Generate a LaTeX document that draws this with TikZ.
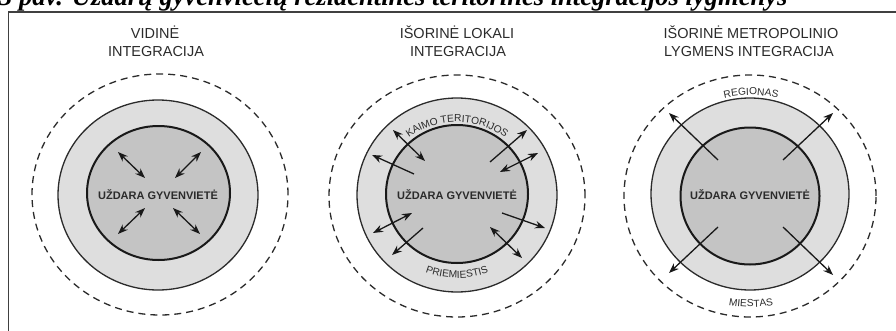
\documentclass[tikz,border=0pt]{standalone}
\usepackage{graphicx}
\usepackage{fontspec}
\setmainfont{Liberation Sans}
\newfontfamily\capfont{Liberation Serif}
\usetikzlibrary{shapes.geometric,arrows.meta,decorations.text}
\definecolor{ringgray}{HTML}{DEDEDE}
\definecolor{coregray}{HTML}{C4C4C4}
\definecolor{inkgray}{HTML}{2B2B2B}
\newcommand{\arclabelfont}{\fontsize{10.2}{12}\selectfont\color{inkgray}}
\tikzset{
  outerring/.style={ellipse, draw=inkgray, dash pattern=on 7pt off 5pt, line width=1.3pt, inner sep=0pt},
  midring/.style={ellipse, draw=inkgray, fill=ringgray, line width=1.3pt, inner sep=0pt},
  coredisk/.style={ellipse, draw=black!90, fill=coregray, line width=2pt, inner sep=0pt},
  coretext/.style={font=\fontsize{11}{13}\selectfont\bfseries, text=inkgray, inner sep=0pt},
  paneltitle/.style={font=\fontsize{14.5}{17.7}\selectfont, text=inkgray, anchor=base, inner sep=0pt},
  biarrow/.style={{Stealth[length=10pt,width=7.5pt]}-{Stealth[length=10pt,width=7.5pt]}, line width=1.3pt, draw=black!90},
  outarrow/.style={-{Stealth[length=10pt,width=7.5pt]}, line width=1.3pt, draw=black!90},
  framestyle/.style={draw=black!75, line width=1.5pt},
}
\begin{document}
\begin{tikzpicture}[x=1pt,y=1pt]
\useasboundingbox (0,0) rectangle (896,330);
\clip (0,0) rectangle (896,330);

% caption (cut at top edge)
\node[anchor=base west, inner sep=0pt] (caption) at (-1,324.5)
  {\resizebox{788pt}{!}{\capfont\bfseries\itshape 3 pav. Uždarų gyvenviečių rezidentinės teritorinės integracijos lygmenys}};

% frame
\coordinate (frbl) at (8.5,-2);
\coordinate (frtl) at (8.5,318);
\coordinate (frtr) at (900,318);
\draw[framestyle] (frbl) -- (frtl) -- (frtr);

% ---------------- Panel 1 ----------------
\node[paneltitle] (p1ta) at (155,291) {VIDINĖ};
\node[paneltitle] (p1tb) at (156,273) {INTEGRACIJA};
\node[outerring, minimum width=256pt, minimum height=241pt] (p1out) at (160,135.5) {};
\node[midring, minimum width=200pt, minimum height=190pt] (p1mid) at (158,135) {};
\node[coredisk, minimum width=143pt, minimum height=134pt] (p1core) at (158.5,137) {};
\node[coretext] (p1txt) at (158,135) {UŽDARA GYVENVIETĖ};
\coordinate (p1a1) at (118,178); \coordinate (p1b1) at (145,152);
\coordinate (p1a2) at (201,178); \coordinate (p1b2) at (175,152);
\coordinate (p1a3) at (145,122); \coordinate (p1b3) at (118,96);
\coordinate (p1a4) at (173,122); \coordinate (p1b4) at (200,96);
\draw[biarrow] (p1a1) -- (p1b1);
\draw[biarrow] (p1a2) -- (p1b2);
\draw[biarrow] (p1a3) -- (p1b3);
\draw[biarrow] (p1a4) -- (p1b4);

% ---------------- Panel 2 ----------------
\node[paneltitle] (p2ta) at (457,291) {IŠORINĖ LOKALI};
\node[paneltitle] (p2tb) at (458,273) {INTEGRACIJA};
\node[outerring, minimum width=256pt, minimum height=242pt] (p2out) at (457,134) {};
\node[midring, minimum width=200pt, minimum height=194pt] (p2mid) at (457,135) {};
\node[coredisk, minimum width=142pt, minimum height=138pt] (p2core) at (457,136) {};
\node[coretext] (p2txt) at (457,135) {UŽDARA GYVENVIETĖ};
\path[decorate, decoration={text along path, text align=center,
   text={|\arclabelfont|KAIMO TERITORIJOS}}]
   (457,136) ++(145:77 and 72) arc[start angle=145, end angle=35, x radius=77, y radius=72];
\path[decorate, decoration={text along path, text align=center,
   text={|\arclabelfont|PRIEMIESTIS}}]
   (457,136) ++(232:88 and 84) arc[start angle=232, end angle=308, x radius=88, y radius=84];
\coordinate (p2a1) at (393,200); \coordinate (p2b1) at (425,169);
\coordinate (p2a2) at (414,156); \coordinate (p2b2) at (372,175);
\coordinate (p2a3) at (490,168); \coordinate (p2b3) at (527,200);
\coordinate (p2a4) at (500,158); \coordinate (p2b4) at (538,177);
\coordinate (p2a5) at (412,117); \coordinate (p2b5) at (373,97);
\coordinate (p2a6) at (423,102); \coordinate (p2b6) at (392,75);
\coordinate (p2a7) at (502,117); \coordinate (p2b7) at (545,102);
\coordinate (p2a8) at (490,103); \coordinate (p2b8) at (522,72);
\draw[biarrow] (p2a1) -- (p2b1);
\draw[outarrow] (p2a2) -- (p2b2);
\draw[outarrow] (p2a3) -- (p2b3);
\draw[biarrow] (p2a4) -- (p2b4);
\draw[biarrow] (p2a5) -- (p2b5);
\draw[outarrow] (p2a6) -- (p2b6);
\draw[outarrow] (p2a7) -- (p2b7);
\draw[biarrow] (p2a8) -- (p2b8);

% ---------------- Panel 3 ----------------
\node[paneltitle] (p3ta) at (751,291) {IŠORINĖ METROPOLINIO};
\node[paneltitle] (p3tb) at (749,273) {LYGMENS INTEGRACIJA};
\node[outerring, minimum width=252pt, minimum height=242pt] (p3out) at (750,134) {};
\node[midring, minimum width=198pt, minimum height=192pt] (p3mid) at (750,136) {};
\node[coredisk, minimum width=139pt, minimum height=137pt] (p3core) at (750,134) {};
\node[coretext] (p3txt) at (750,135) {UŽDARA GYVENVIETĖ};
\path[decorate, decoration={text along path, text align=center,
   text={|\arclabelfont|REGIONAS}}]
   (751,134) ++(125:106 and 101) arc[start angle=125, end angle=55, x radius=106, y radius=101];
\path[decorate, decoration={text along path, text align=center,
   text={|\arclabelfont|MIESTAS}}]
   (751,134) ++(238:116 and 111) arc[start angle=238, end angle=302, x radius=116, y radius=111];
\coordinate (p3a1) at (718,170); \coordinate (p3b1) at (669,217);
\coordinate (p3a2) at (783,170); \coordinate (p3b2) at (833,217);
\coordinate (p3a3) at (718,103); \coordinate (p3b3) at (669,57);
\coordinate (p3a4) at (783,103); \coordinate (p3b4) at (833,55);
\draw[outarrow] (p3a1) -- (p3b1);
\draw[outarrow] (p3a2) -- (p3b2);
\draw[outarrow] (p3a3) -- (p3b3);
\draw[outarrow] (p3a4) -- (p3b4);
\end{tikzpicture}
\end{document}
